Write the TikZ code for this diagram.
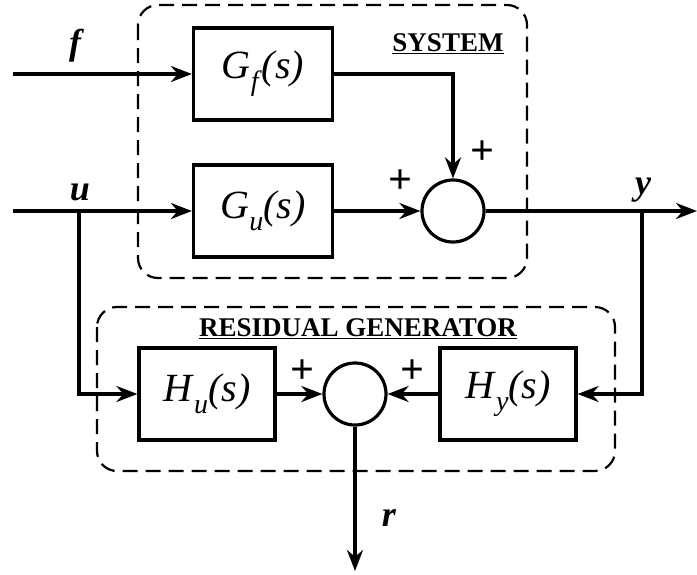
\documentclass[tikz,border=0pt]{standalone}
\usepackage{fontspec}
\setmainfont{Liberation Serif}
\usetikzlibrary{arrows.meta}
\newcommand{\tfn}[2]{\textit{#1}\raisebox{-0.3em}{\fontsize{28}{28}\selectfont\textit{#2}}\textit{(s)}}
\begin{document}
\begin{tikzpicture}[x=1pt,y=-1pt,
  line width=3.2pt,
  arr/.style={-{Stealth[length=21pt,width=16pt]}},
  blk/.style={draw,minimum width=139pt,minimum height=92pt,inner sep=0pt,font=\fontsize{40}{40}\selectfont},
  sumn/.style={draw,circle,minimum size=62pt,inner sep=0pt},
  grp/.style={draw,dash pattern=on 15pt off 8pt,line width=2.2pt,rounded corners=20pt},
  sig/.style={font=\fontsize{36}{36}\selectfont\bfseries\itshape},
  ttl/.style={font=\fontsize{27}{27}\selectfont\bfseries},
  pls/.style={font=\fontsize{42}{42}\selectfont\bfseries}]
\useasboundingbox (0,0) rectangle (697,574);
% groups
\draw[grp] (138,5) rectangle (527,278);
\draw[grp] (97,307) rectangle (615,471);
\node[ttl] (tsys) at (448,44) {\underline{SYSTEM}};
\node[ttl] (tres) at (358,329) {\underline{RESIDUAL GENERATOR}};
% blocks
\node[blk] (Gf) at (263,74) {\tfn{G}{f}};
\node[blk] (Gu) at (263,211) {\tfn{G}{u}};
\node[sumn] (s1) at (453,211) {};
\node[blk,minimum width=136pt] (Hu) at (207,394) {\tfn{H}{u}};
\node[blk,minimum width=136pt] (Hy) at (508,394) {\tfn{H}{y}};
\node[sumn] (s2) at (355,394) {};
% coordinates
\coordinate (fin) at (13,74);
\coordinate (uin) at (13,211);
\coordinate (ubr) at (79,211);
\coordinate (ybr) at (642,211);
\coordinate (yout) at (697,211);
\coordinate (rout) at (355,571);
% connectors
\draw[arr] (fin) -- (Gf.west);
\draw[arr] (uin) -- (Gu.west);
\draw[arr] (Gu.east) -- (s1.west);
\draw[arr] (Gf.east) -| (s1.north);
\draw[arr] (s1.east) -- (yout);
\draw[arr] (ubr) |- (Hu.west);
\draw[arr] (ybr) |- (Hy.east);
\draw[arr] (Hu.east) -- (s2.west);
\draw[arr] (Hy.west) -- (s2.east);
\draw[arr] (s2.south) -- (rout);
% labels
\node[sig] (lf) at (75,46) {f};
\node[sig] (lu) at (80,192) {u};
\node[sig] (ly) at (643,190) {y};
\node[sig] (lr) at (389,518) {r};
\node[pls] (p1) at (482,153) {+};
\node[pls] (p2) at (400,182) {+};
\node[pls] (p3) at (302,372) {+};
\node[pls] (p4) at (412,372) {+};
\end{tikzpicture}
\end{document}
